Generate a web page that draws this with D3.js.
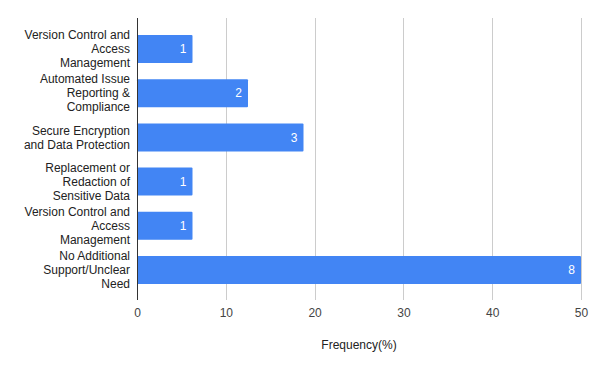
<!DOCTYPE html>
<html>
<head>
<meta charset="utf-8">
<script src="https://cdn.jsdelivr.net/npm/d3@7"></script>
<style>
  html, body { margin: 0; padding: 0; background: #fff; }
  svg { display: block; font-family: Arial, "Liberation Sans", sans-serif; }
</style>
</head>
<body>
<svg id="chart" width="600" height="371"></svg>
<script>
const categories = [
  "Version Control and\nAccess\nManagement",
  "Automated Issue\nReporting &\nCompliance",
  "Secure Encryption\nand Data Protection",
  "Replacement or\nRedaction of\nSensitive Data",
  "Version Control and\nAccess\nManagement",
  "No Additional\nSupport/Unclear\nNeed"
];
const counts = [1, 2, 3, 1, 1, 8];
const frequency = [6.25, 12.5, 18.75, 6.25, 6.25, 50];
const xTicks = [0, 10, 20, 30, 40, 50];
const xTitle = "Frequency(%)";

(function () {
const svg = d3.select("#chart");
const pLeft = 137, pRight = 581, pTop = 18, pBottom = 300;

const x = d3.scaleLinear().domain([0, 50]).range([pLeft, pRight]);
const y = d3.scaleBand()
  .domain(categories.map((d, i) => i))
  .range([26.9, 292.1])
  .paddingInner(0.367)
  .paddingOuter(0.183);

// gridlines
svg.append("g").selectAll("line")
  .data(xTicks.filter(t => t > 0))
  .join("line")
  .attr("x1", d => Math.round(x(d)) + 0.5).attr("x2", d => Math.round(x(d)) + 0.5)
  .attr("y1", pTop).attr("y2", pBottom)
  .attr("stroke", "#cccccc").attr("stroke-width", 1);

// bars
svg.append("g").selectAll("rect")
  .data(frequency)
  .join("rect")
  .attr("x", x(0))
  .attr("y", (d, i) => y(i))
  .attr("width", d => x(d) - x(0))
  .attr("height", y.bandwidth())
  .attr("rx", 1)
  .attr("fill", "#4285f4");

// value labels
svg.append("g").selectAll("text")
  .data(frequency)
  .join("text")
  .attr("x", d => x(d) - 6)
  .attr("y", (d, i) => y(i) + y.bandwidth() / 2)
  .attr("dy", "0.35em")
  .attr("text-anchor", "end")
  .attr("font-size", 12)
  .attr("fill", "#ffffff")
  .text((d, i) => counts[i]);

// zero axis line
svg.append("line")
  .attr("x1", Math.round(x(0)) + 0.5).attr("x2", Math.round(x(0)) + 0.5)
  .attr("y1", pTop).attr("y2", pBottom)
  .attr("stroke", "#333333").attr("stroke-width", 1);

// x tick labels
const xAxis = d3.axisBottom(x).tickValues(xTicks).tickSize(0).tickPadding(0);
const gx = svg.append("g").attr("transform", `translate(0,${pBottom})`).call(xAxis);
gx.select(".domain").remove();
gx.selectAll("text")
  .attr("y", 13).attr("dy", "0.35em")
  .attr("font-size", 12)
  .attr("font-family", "Arial, 'Liberation Sans', sans-serif")
  .attr("fill", "#444444");

// category labels
const lineH = 14;
const yl = svg.append("g");
categories.forEach((c, i) => {
  const lines = c.split("\n");
  const cy = y(i) + y.bandwidth() / 2;
  const t = yl.append("text")
    .attr("text-anchor", "end")
    .attr("font-size", 12)
    .attr("fill", "#222222");
  lines.forEach((ln, j) => {
    t.append("tspan")
      .attr("x", 130)
      .attr("y", cy + (j - (lines.length - 1) / 2) * lineH)
      .attr("dy", "0.35em")
      .text(ln);
  });
});

// x title
svg.append("text")
  .attr("x", (pLeft + pRight) / 2)
  .attr("y", 345)
  .attr("dy", "0.35em")
  .attr("text-anchor", "middle")
  .attr("font-size", 12)
  .attr("fill", "#222222")
  .text(xTitle);
})();
</script>
</body>
</html>
